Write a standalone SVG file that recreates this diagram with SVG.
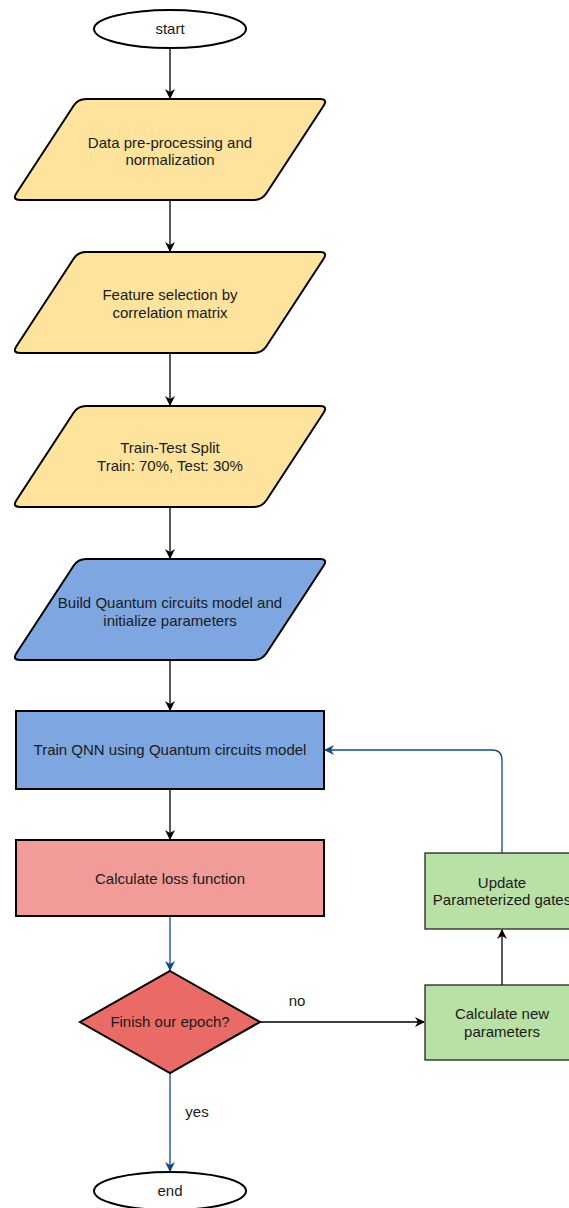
<svg xmlns="http://www.w3.org/2000/svg" width="569" height="1208" viewBox="0 0 569 1208">
<style>
text{font-family:"Liberation Sans",Arial,Helvetica,sans-serif;font-size:15px;fill:#1a1a1a;text-anchor:middle}
.sh{stroke:#000;stroke-width:2}
.yel{fill:#fde39b}
.blu{fill:#7ea6e0}
.pink{fill:#f19c99}
.red{fill:#ea6b66}
.grn{fill:#b9e0a5;stroke:#222;stroke-width:1.3}
.term{fill:#fff}
.c{fill:none;stroke:#000;stroke-width:1.3}
.cb{fill:none;stroke:#0d4a8a;stroke-width:1.3}
</style>
<defs>
<path id="para" d="M86,0 L320,0 Q328,0 323.6,6.7 L266.4,94.3 Q262,101 254,101 L20,101 Q12,101 16.4,94.3 L73.6,6.7 Q78,0 86,0 Z"/>
<marker id="ak" viewBox="0 0 10 10" refX="9" refY="5" markerWidth="10" markerHeight="10" markerUnits="userSpaceOnUse" orient="auto"><path d="M0,0 L10,5 L0,10 L3,5 Z" fill="#000"/></marker>
<marker id="ab" viewBox="0 0 10 10" refX="9" refY="5" markerWidth="10" markerHeight="10" markerUnits="userSpaceOnUse" orient="auto"><path d="M0,0 L10,5 L0,10 L3,5 Z" fill="#0d4a8a"/></marker>
</defs>
<g id="connectors">
<line class="c" x1="170" y1="48" x2="170" y2="98" marker-end="url(#ak)"/>
<line class="c" x1="170" y1="200" x2="170" y2="251" marker-end="url(#ak)"/>
<line class="c" x1="170" y1="353" x2="170" y2="405" marker-end="url(#ak)"/>
<line class="c" x1="170" y1="507" x2="170" y2="558" marker-end="url(#ak)"/>
<line class="c" x1="170" y1="660" x2="170" y2="710" marker-end="url(#ak)"/>
<line class="c" x1="170" y1="789" x2="170" y2="839" marker-end="url(#ak)"/>
<line class="cb" x1="170" y1="916" x2="170" y2="970" marker-end="url(#ab)"/>
<line class="cb" x1="170" y1="1073" x2="170" y2="1171" marker-end="url(#ab)"/>
<line class="c" x1="260" y1="1022" x2="424" y2="1022" marker-end="url(#ak)"/>
<line class="c" x1="502" y1="985" x2="502" y2="930" marker-end="url(#ak)"/>
<path class="cb" d="M502,853 L502,760 Q502,750 492,750 L325,750" marker-end="url(#ab)"/>
<text x="297" y="1006">no</text>
<text x="197" y="1117">yes</text>
</g>
<g id="start">
<ellipse class="sh term" cx="170" cy="29" rx="76" ry="19"/>
<text x="170" y="34">start</text>
</g>
<g id="preprocess">
<use href="#para" class="sh yel" transform="translate(0,99)"/>
<text x="170" y="148">Data pre-processing and</text>
<text x="170" y="165">normalization</text>
</g>
<g id="feature">
<use href="#para" class="sh yel" transform="translate(0,252)"/>
<text x="170" y="300">Feature selection by</text>
<text x="170" y="318">correlation matrix</text>
</g>
<g id="split">
<use href="#para" class="sh yel" transform="translate(0,406)"/>
<text x="170" y="453">Train-Test Split</text>
<text x="170" y="471">Train: 70%, Test: 30%</text>
</g>
<g id="build">
<use href="#para" class="sh blu" transform="translate(0,559)"/>
<text x="170" y="608">Build Quantum circuits model and</text>
<text x="170" y="626">initialize parameters</text>
</g>
<g id="train">
<rect class="sh blu" x="16" y="711" width="308" height="78"/>
<text x="170" y="755">Train QNN using Quantum circuits model</text>
</g>
<g id="loss">
<rect class="sh pink" x="16" y="840" width="308" height="76"/>
<text x="170" y="884">Calculate loss function</text>
</g>
<g id="decision">
<polygon class="sh red" points="170,971 260,1022 170,1073 80,1022"/>
<text x="170" y="1027">Finish our epoch?</text>
</g>
<g id="newparams">
<rect class="grn" x="425" y="985" width="154" height="75"/>
<text x="502" y="1019">Calculate new</text>
<text x="502" y="1037">parameters</text>
</g>
<g id="update">
<rect class="grn" x="425" y="853" width="154" height="76"/>
<text x="502" y="888">Update</text>
<text x="502" y="905">Parameterized gates</text>
</g>
<g id="end">
<ellipse class="sh term" cx="170" cy="1191" rx="76" ry="19"/>
<text x="170" y="1196">end</text>
</g>
</svg>
